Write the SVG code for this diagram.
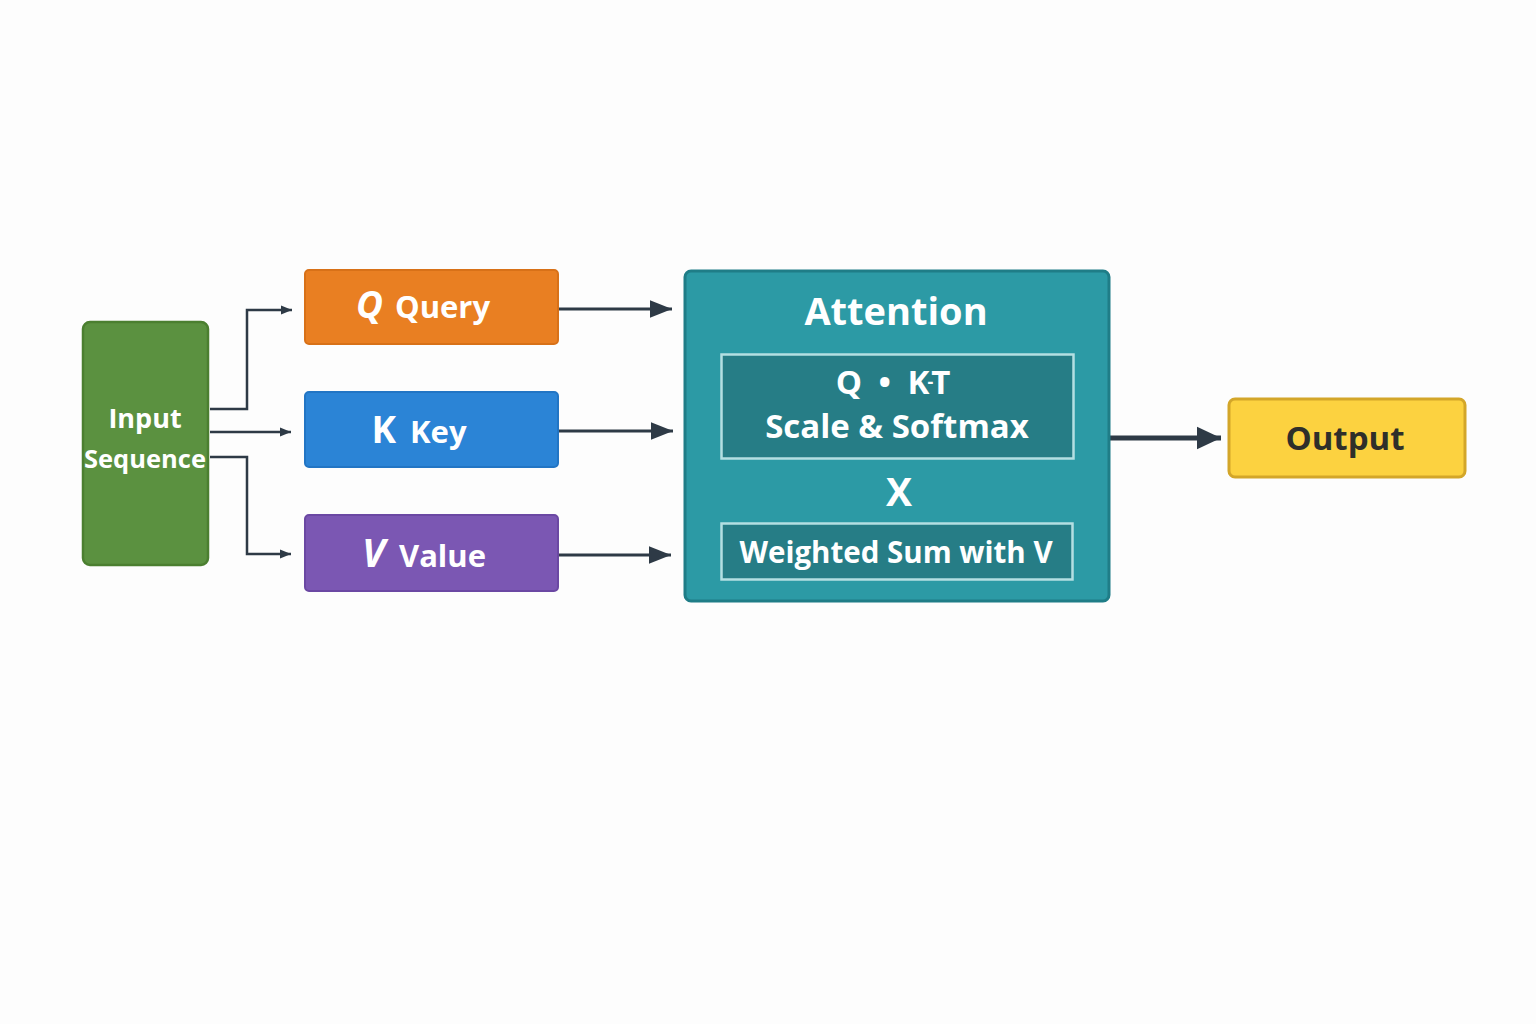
<svg xmlns="http://www.w3.org/2000/svg" width="1536" height="1024" viewBox="0 0 1536 1024">
<defs>
<style>
text{font-family:"Open Sans","Noto Sans","Liberation Sans",sans-serif;font-weight:700;text-anchor:middle;fill:#ffffff}
.thin{fill:none;stroke:#2e3a46;stroke-width:2.5}
.med{fill:none;stroke:#2e3a46;stroke-width:3}
.thick{fill:none;stroke:#2e3a46;stroke-width:5}
</style>
<marker id="ah" viewBox="0 0 10 10" refX="10" refY="5" markerWidth="7.5" markerHeight="7.5" markerUnits="strokeWidth" orient="auto"><path d="M0,1 L10,5 L0,9 Z" fill="#2e3a46"/></marker>
<marker id="ahs" viewBox="0 0 10 10" refX="10" refY="5" markerWidth="4.5" markerHeight="4.5" markerUnits="strokeWidth" orient="auto"><path d="M0,1 L10,5 L0,9 Z" fill="#2e3a46"/></marker>
<marker id="ahl" viewBox="0 0 10 10" refX="10" refY="5" markerWidth="4.8" markerHeight="5" markerUnits="strokeWidth" orient="auto"><path d="M0,0.3 L10,5 L0,9.7 Z" fill="#2e3a46"/></marker>
</defs>
<rect width="1536" height="1024" fill="#fdfdfd"/>
<g id="connectors">
<path class="thin" d="M210,409 H247 V310 H292" marker-end="url(#ahs)"/>
<path class="thin" d="M210,432 H291" marker-end="url(#ahs)"/>
<path class="thin" d="M210,457 H247 V554 H291" marker-end="url(#ahs)"/>
<path class="med" d="M558,309 H672" marker-end="url(#ah)"/>
<path class="med" d="M558,431 H673" marker-end="url(#ah)"/>
<path class="med" d="M558,555 H671" marker-end="url(#ah)"/>
<path class="thick" d="M1110,438 H1221" marker-end="url(#ahl)"/>
</g>
<g id="input">
<rect x="83" y="322" width="125" height="243" rx="7" fill="#5b9140" stroke="#4b7f30" stroke-width="2.5"/>
<text x="145" y="428" font-size="27" font-weight="600">Input</text>
<text x="145" y="468" font-size="25.5" font-weight="600">Sequence</text>
</g>
<g id="query">
<rect x="305" y="270" width="253" height="74" rx="4" fill="#e97f22" stroke="#d87118" stroke-width="2"/>
<text x="423" y="318" font-size="31" font-weight="600"><tspan font-size="37" font-weight="700" font-style="italic">Q</tspan><tspan dx="12">Query</tspan></text>
</g>
<g id="key">
<rect x="305" y="392" width="253" height="75" rx="4" fill="#2b84d6" stroke="#2275c4" stroke-width="2"/>
<text x="419" y="443" font-size="31" font-weight="600"><tspan font-size="37" font-weight="700">K</tspan><tspan dx="14">Key</tspan></text>
</g>
<g id="value">
<rect x="305" y="515" width="253" height="76" rx="4" fill="#7b57b3" stroke="#6b48a3" stroke-width="2"/>
<text x="424" y="567" font-size="31" font-weight="600"><tspan font-size="39" font-weight="700" font-style="italic">V</tspan><tspan dx="14">Value</tspan></text>
</g>
<g id="attention">
<rect x="685" y="271" width="424" height="330" rx="6" fill="#2c9aa5" stroke="#1f7d87" stroke-width="3"/>
<text x="896" y="325" font-size="38">Attention</text>
<rect x="721.5" y="354.5" width="352" height="104" fill="#267d86" stroke="#b4dfe2" stroke-width="2.5"/>
<text x="893" y="394" font-size="33" font-weight="600">Q <tspan dx="8">•</tspan> <tspan dx="8">K</tspan><tspan font-size="18" dy="-6" dx="-2">-</tspan><tspan dy="6" dx="-2">T</tspan></text>
<text x="897" y="438" font-size="33">Scale &amp; Softmax</text>
<text x="899" y="506" font-size="39">X</text>
<rect x="721.5" y="523.5" width="351" height="56" fill="#267d86" stroke="#b4dfe2" stroke-width="2.5"/>
<text x="896" y="563" font-size="29.5">Weighted Sum with V</text>
</g>
<g id="output">
<rect x="1229" y="399" width="236" height="78" rx="6" fill="#fcd240" stroke="#d3a629" stroke-width="3"/>
<text x="1345" y="450" font-size="33" font-weight="600" style="fill:#2f2f2a">Output</text>
</g>
</svg>
